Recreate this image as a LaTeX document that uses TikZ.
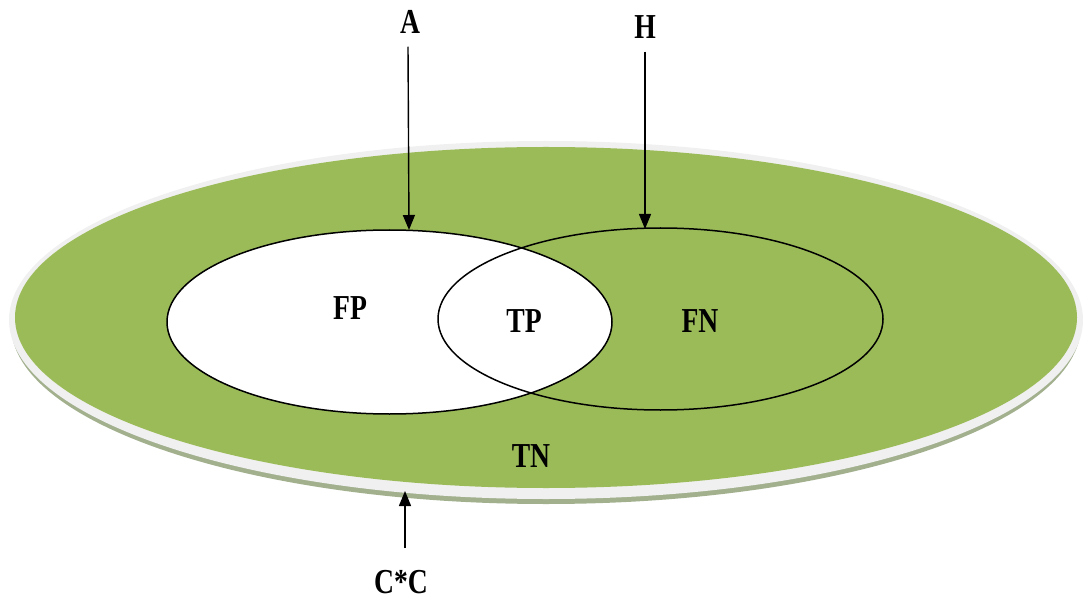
\documentclass[tikz,border=0pt]{standalone}
\usepackage{fontspec}
\setmainfont{Liberation Serif}
\usetikzlibrary{shapes.geometric,arrows.meta}
\definecolor{disc}{HTML}{9BBB59}
\definecolor{rim}{HTML}{F0F0F0}
\definecolor{rimshadow}{HTML}{A2B08E}
\newcommand{\lbltxt}[1]{\scalebox{0.79}[1]{\bfseries #1}}
\tikzset{
  lbl/.style={inner sep=0pt, font=\fontsize{35}{38}\selectfont},
  setell/.style={shape=ellipse, draw=black, line width=1.5pt, inner sep=0pt, outer sep=0pt},
  ptr/.style={line width=1.4pt, -{Triangle[width=12pt,length=15pt]}}
}
\begin{document}
\begin{tikzpicture}[x=1pt,y=-1pt]
\useasboundingbox (0,0) rectangle (1083,601);
% disc with rim and shadow
\node[shape=ellipse, fill=rimshadow, minimum width=1070pt, minimum height=358pt, inner sep=0pt] (shadow) at (546,325) {};
\node[shape=ellipse, fill=rim, minimum width=1074pt, minimum height=358pt, inner sep=0pt] (rimell) at (546,320) {};
\node[shape=ellipse, fill=disc, minimum width=1062pt, minimum height=341pt, inner sep=0pt] (disc) at (546,317.5) {};
% sets
\node[setell, fill=white, minimum width=445pt, minimum height=184pt] (Aset) at (389.5,322) {};
\node[setell, minimum width=445pt, minimum height=182pt] (Hset) at (660.5,319) {};
% labels
\node[lbl] (FP) at (350,308) {\lbltxt{FP}};
\node[lbl] (TP) at (524,321) {\lbltxt{TP}};
\node[lbl] (FN) at (700,321) {\lbltxt{FN}};
\node[lbl] (TN) at (531,456) {\lbltxt{TN}};
\node[lbl] (A) at (410,22) {\lbltxt{A}};
\node[lbl] (H) at (645,27) {\lbltxt{H}};
\node[lbl] (CC) at (401,582) {\lbltxt{C*C}};
% arrow targets
\coordinate (Atip) at (409,230);
\coordinate (Htip) at (645,229);
\coordinate (Ctip) at (405,491);
\draw[ptr] (A.south -| Atip) ++(-1,13) -- (Atip);
\draw[ptr] (H.south -| Htip) ++(0,13) -- (Htip);
\draw[ptr] (CC.north -| Ctip) ++(0,-22) -- (Ctip);
\end{tikzpicture}
\end{document}
